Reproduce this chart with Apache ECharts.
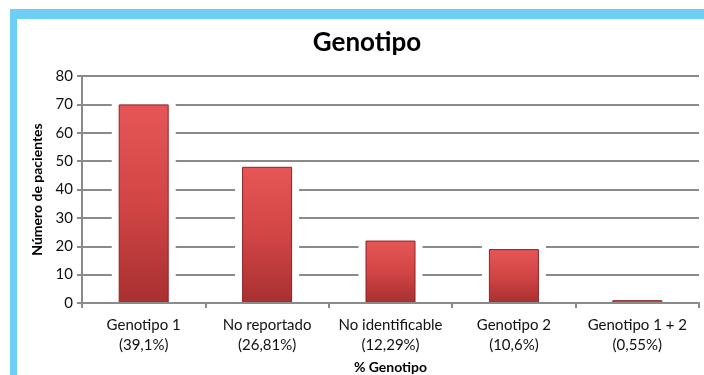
<!DOCTYPE html>
<html>
<head>
<meta charset="utf-8">
<script src="https://cdn.jsdelivr.net/npm/echarts@6/dist/echarts.min.js"></script>
<style>
html,body{margin:0;padding:0;background:#fff;}
#wrap{position:relative;width:704px;height:375px;overflow:hidden;background:#fff;}
#bandTop{position:absolute;left:10px;top:9px;width:694px;height:10px;background:#6DCFF6;}
#bandLeft{position:absolute;left:10px;top:9px;width:7px;height:366px;background:#6DCFF6;}
#chart{position:absolute;left:0;top:0;width:704px;height:375px;}
</style>
</head>
<body>
<div id="wrap">
<div id="bandTop"></div>
<div id="bandLeft"></div>
<div id="chart"></div>
</div>
<script>
const categories = ['Genotipo 1\n(39,1%)', 'No reportado\n(26,81%)', 'No identificable\n(12,29%)', 'Genotipo 2\n(10,6%)', 'Genotipo 1 + 2\n(0,55%)'];
const patients = [70, 48, 22, 19, 1];
const yTicks = { min: 0, max: 80, interval: 10 };

const chart = echarts.init(document.getElementById('chart'), null, { renderer: 'canvas' });
const font = 'Lato, "Open Sans", sans-serif';
const axisGray = '#8a8a8a';
chart.setOption({
  animation: false,
  backgroundColor: 'transparent',
  title: {
    text: 'Genotipo',
    left: 362, top: 25, textAlign: 'center',
    textStyle: { fontFamily: font, fontWeight: 'bold', fontSize: 26, color: '#000' }
  },
  grid: { left: 82, right: 5, top: 76, bottom: 72, containLabel: false, outerBoundsMode: 'none' },
  xAxis: {
    type: 'category', data: categories, z: 10,
    name: '% Genotipo', nameLocation: 'middle', nameGap: 57,
    nameTextStyle: { fontFamily: font, fontWeight: 'bold', fontSize: 14, color: '#000' },
    axisLine: { lineStyle: { color: axisGray, width: 2 } },
    axisTick: { show: true, length: 5, lineStyle: { color: axisGray, width: 2 } },
    axisLabel: { fontFamily: font, fontSize: 15, color: '#111', margin: 12, lineHeight: 20, interval: 0 }
  },
  yAxis: {
    type: 'value', min: yTicks.min, max: yTicks.max, interval: yTicks.interval, z: 0,
    name: 'Número de pacientes', nameLocation: 'middle', nameGap: 34, nameRotate: 90,
    nameTextStyle: { fontFamily: font, fontWeight: 'bold', fontSize: 14, color: '#000' },
    axisLine: { show: true, lineStyle: { color: axisGray, width: 2 } },
    axisTick: { show: true, length: 5, lineStyle: { color: axisGray, width: 2 } },
    axisLabel: { fontFamily: font, fontSize: 15, color: '#111', margin: 9 },
    splitLine: { lineStyle: { color: axisGray, width: 2 } }
  },
  series: [{
    name: 'halo', type: 'custom', z: 2, silent: true, data: patients,
    renderItem: function (params, api) {
      const top = api.coord([api.value(0), api.value(1)]);
      const base = api.coord([api.value(0), 0]);
      const halfW = 32, pad = 3;
      return {
        type: 'rect',
        shape: { x: top[0] - halfW, y: top[1] - pad, width: halfW * 2, height: base[1] - top[1] + pad - 1 },
        style: { fill: '#fff' }
      };
    },
    encode: { x: 0, y: 1 }
  }, {
    name: 'pacientes', type: 'bar', data: patients, barWidth: 50, z: 3,
    itemStyle: {
      color: new echarts.graphic.LinearGradient(0, 0, 0, 1, [
        { offset: 0, color: '#E65656' },
        { offset: 0.5, color: '#D24545' },
        { offset: 1, color: '#A83030' }
      ]),
      borderColor: '#8E2222', borderWidth: 1
    }
  }]
});
</script>
</body>
</html>
